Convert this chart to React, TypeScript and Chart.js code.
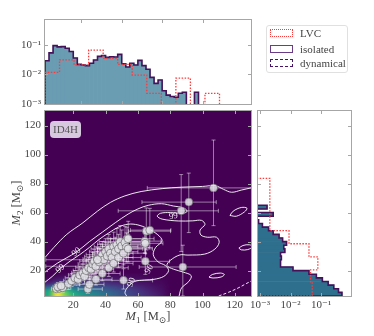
import React, { useEffect, useRef } from 'react';
import { Chart, registerables } from 'chart.js';

Chart.register(...registerables);

const FONT = "'Liberation Serif', 'DejaVu Serif', serif";
const TEXT_COLOR = '#444444';
const SPINE_COLOR = '#a6a6a6';
const TEAL_TOP = '#6a9cb2';
const TEAL_RIGHT = '#2f6f8e';
const PURPLE = '#45125a';
const LVC_RED = '#ff3a3a';

// ---------------- data ----------------
const m1Ticks = [20, 40, 60, 80, 100, 120];
const m2Ticks = [20, 40, 60, 80, 100, 120];
const topHistM1Ticks = [25, 50, 75, 100];
const logTicks = [1e-3, 1e-2, 1e-1];
const logTickLabels = ['10⁻³', '10⁻²', '10⁻¹'];

const isoBinStart = 2.5;
const isoBinWidth = 2.5;
const lvcBinStart = 2.5;
const lvcBinWidth = 9;

const m1DensityIsolated = [
  0.029, 0.054, 0.095, 0.086, 0.088, 0.077, 0.06, 0.036, 0.022, 0.021,
  0.02, 0.024, 0.031, 0.041, 0.044, 0.038, 0.04, 0.039, 0.048, 0.023,
  0.018, 0.024, 0.021, 0.03, 0.02, 0.015, 0.008, 0.005, 0.0065, 0.0028,
  0.002, 0.0018, 0.0017, 0.0023, 0.0025, 0, 0, 0.0025,
];
const m1DensityLVC = [0.0118, 0.031, 0.021, 0.067, 0.035, 0.022, 0.0095, 0.0023, 0, 0.0075, 0, 0.0023];

const m2DensityIsolated = [
  0.48, 0.37, 0.26, 0.17, 0.11, 0.07, 0.04, 0.012, 0.0047, 0.0047,
  0.005, 0.0047, 0.0065, 0.006, 0.0074, 0.0055, 0.0042, 0.0027, 0.0019, 0.0012,
  0.0009, 0, 0.0027, 0, 0.0017,
];
const m2DensityLVC = [0.051, 0.045, 0.078, 0.04, 0.0089, 0.0021, 0.0021, 0.0021, 0.0021];

// events (M1, M2) with asymmetric 90% errors
const eventM1 = [
  106.8, 91.5, 86.8, 87.8, 65.2, 67.4, 64.3, 64.5, 64.6, 53.2, 51.1,
  9.5, 11.5, 13.5, 10.5, 12.5, 17, 19, 21, 23, 24, 26, 27, 28, 29.5, 31, 32, 33, 34, 35, 36,
  37, 38, 39, 40, 41, 42, 43, 44, 45, 46, 47, 48, 49, 50, 52, 53, 54,
  29, 30, 34, 38, 35, 42, 45, 48, 51, 54,
];
const eventM2 = [
  77, 67.2, 61.2, 22.5, 47.2, 47.9, 40.3, 38.8, 26.4, 41.9, 13.3,
  7.5, 7.8, 8.2, 8.8, 9.5, 11, 13, 15, 14, 17, 18.5, 16, 20, 22, 21, 24.5, 26.5, 23, 28, 26,
  29.5, 31, 27.5, 33, 30, 35, 32, 29, 36.5, 33, 38, 35, 40, 37, 39.5, 36, 42,
  7.3, 10.5, 14, 18, 27.5, 22, 25, 29, 32, 35,
];
const eventM1ErrLo = [
  41, 29, 39, 27, 11, 12, 10, 9, 20, 10, 15,
  3, 3, 4, 3, 4, 5, 5, 6, 6, 7, 7, 7, 8, 8, 8, 9, 9, 31, 9, 10,
  10, 10, 11, 10, 11, 11, 11, 12, 12, 12, 12, 12, 13, 12, 13, 13, 13,
  6, 6, 7, 8, 32, 9, 10, 10, 11, 12,
];
const eventM1ErrHi = [
  25, 17, 23, 33, 15, 13, 10, 11, 15, 10, 18,
  4, 4, 5, 5, 5, 7, 8, 9, 8, 9, 10, 9, 10, 11, 10, 12, 12, 17, 12, 12,
  13, 12, 13, 14, 13, 14, 14, 13, 15, 14, 15, 15, 15, 14, 15, 14, 16,
  9, 9, 10, 11, 16, 12, 12, 14, 14, 15,
];
const eventM2ErrLo = [
  26, 21, 28, 20, 13, 12, 8, 7, 9, 7, 6,
  2.5, 2.5, 3, 2.5, 3, 4, 4, 5, 4, 5, 5, 5, 6, 6, 6, 7, 7, 8, 8, 7,
  8, 8, 8, 9, 8, 9, 9, 8, 10, 9, 10, 10, 10, 10, 10, 10, 11,
  3, 3, 4, 5, 8, 6, 6, 7, 8, 9,
];
const eventM2ErrHi = [
  33, 20, 25, 15, 16, 15, 9, 8, 10, 8, 8,
  2.5, 3, 3, 3, 3, 4, 5, 5, 5, 6, 6, 6, 7, 7, 7, 8, 8, 7, 8, 9,
  9, 9, 9, 9, 9, 10, 10, 10, 10, 10, 11, 10, 11, 11, 11, 10, 12,
  3, 4, 5, 6, 8, 7, 8, 8, 9, 10,
];

// density map of the model (row = M2 centre, column = M1 centre)
const heatM1 = [5, 10, 15, 20, 25, 30, 35, 40, 45, 50, 55, 60, 65, 70, 75, 80];
const heatM2 = [3.75, 6.25, 8.75, 11.25, 13.75, 16.25, 18.75];
const heatDensity = [
  [0.62, 1.0, 0.8, 0.62, 0.54, 0.48, 0.43, 0.37, 0.31, 0.26, 0.21, 0.17, 0.13, 0.09, 0.05, 0.0],
  [0.56, 0.93, 0.7, 0.52, 0.45, 0.41, 0.36, 0.31, 0.27, 0.23, 0.19, 0.15, 0.11, 0.07, 0.04, 0.0],
  [0.3, 0.52, 0.44, 0.35, 0.31, 0.29, 0.26, 0.23, 0.2, 0.17, 0.14, 0.11, 0.08, 0.05, 0.03, 0.0],
  [0.1, 0.2, 0.2, 0.18, 0.17, 0.16, 0.15, 0.14, 0.12, 0.1, 0.08, 0.06, 0.05, 0.03, 0.02, 0.0],
  [0.03, 0.08, 0.09, 0.09, 0.09, 0.09, 0.09, 0.08, 0.07, 0.06, 0.05, 0.04, 0.03, 0.02, 0.01, 0.0],
  [0.0, 0.02, 0.03, 0.04, 0.04, 0.04, 0.04, 0.04, 0.04, 0.03, 0.02, 0.02, 0.01, 0.0, 0.0, 0.0],
  [0.0, 0.0, 0.0, 0.0, 0.0, 0.0, 0.0, 0.0, 0.0, 0.0, 0.0, 0.0, 0.0, 0.0, 0.0, 0.0],
];

// credible-region contours
const contourOuterM1 = [2.5, 8, 16, 26, 35, 43, 52, 62, 75, 87, 100, 108, 113, 118, 124, 130];
const contourOuterM2 = [29, 36, 45, 53, 61, 67, 71.5, 74.5, 76.5, 77.5, 78, 78.5, 76, 74, 75.5, 77];
const contourMidM1 = [
  2.5, 10, 21.9, 30, 38, 46, 54, 60, 66.4, 74.6, 82, 88, 90.5, 88, 80, 74, 72, 75, 85, 94,
  99.4, 101.5, 98.5, 99, 103, 108.7, 110.3, 107.6, 101.4, 91, 86, 80, 78, 82, 88, 93, 91.5, 87, 85.5,
];
const contourMidM2 = [
  19, 25, 32.8, 40, 46.5, 53, 59, 62.5, 65, 66.1, 64.5, 63.3, 61, 59.5, 60, 59.5, 57.5, 55.5, 54.2, 54.3,
  54.6, 51.8, 48, 44.5, 43, 43, 39.4, 34.8, 31.4, 30.7, 30.8, 27, 23.5, 21, 19, 16.5, 12.5, 8, 2.5,
];
const contourInnerM1 = [2.5, 7, 12, 18, 24, 30, 36, 42, 48, 54, 60, 66, 72, 75, 71, 69.5, 72.5, 77, 79, 76, 70, 64, 58, 54, 52, 53];
const contourInnerM2 = [12, 16, 21.3, 26.5, 31, 36, 41.5, 46, 50, 52, 51.5, 49, 45, 40.5, 36, 31, 26, 23.5, 20, 16, 14, 13.5, 12.5, 9, 5, 2.5];
const contourEdgeM1 = [110, 116, 122, 127, 130.5];
const contourEdgeM2 = [2.5, 5, 8, 11, 13];
const island1M1 = [117, 119, 124, 127.5, 126, 121, 117];
const island1M2 = [58, 61, 63.5, 63, 60.5, 57.5, 58];
const island2M1 = [104, 106, 111, 113.5, 111.5, 106.5, 104];
const island2M2 = [15.5, 17.3, 18.3, 17.3, 15.6, 14.9, 15.5];
const island3M1 = [122.5, 125, 129, 131, 128, 124, 122.5];
const island3M2 = [35.5, 37.3, 37.8, 36.5, 34.5, 34.3, 35.5];

const contourLabelM1 = [12, 21.9, 82, 67, 56];
const contourLabelM2 = [21.3, 32.8, 57.5, 21, 12];
const contourLabelText = ['99', '90', '99', '90', '90'];
const contourLabelAngle = [-40, -40, -10, -60, -70];

const legendLabels = ['LVC', 'isolated', 'dynamical'];

// ---------------- helpers ----------------
const viridisStops = [
  [68, 1, 84], [72, 36, 117], [65, 68, 135], [53, 95, 141], [42, 120, 142], [33, 145, 140],
  [34, 168, 132], [68, 191, 112], [122, 209, 81], [189, 223, 38], [253, 231, 37],
];
function viridis(t: number): number[] {
  const s = Math.max(0, Math.min(1, t)) * (viridisStops.length - 1);
  const i = Math.min(Math.floor(s), viridisStops.length - 2);
  const f = s - i;
  const a = viridisStops[i];
  const b = viridisStops[i + 1];
  return [0, 1, 2].map((k) => Math.round(a[k] + (b[k] - a[k]) * f));
}

const FLOOR = 1e-6;
function stepOutline(values: number[], start: number, width: number, horizontal: boolean) {
  const pts: { x: number; y: number }[] = [];
  const push = (edge: number, val: number) => pts.push(horizontal ? { x: val, y: edge } : { x: edge, y: val });
  push(start, FLOOR);
  values.forEach((v, i) => {
    const lo = start + i * width;
    const val = v > 0 ? v : FLOOR;
    push(lo, val);
    push(lo + width, val);
  });
  push(start + values.length * width, FLOOR);
  return pts;
}
function barPoints(values: number[], start: number, width: number, horizontal: boolean) {
  const pts: { x: number; y: number }[] = [];
  values.forEach((v, i) => {
    if (v <= 0) return;
    const c = start + (i + 0.5) * width;
    pts.push(horizontal ? { x: v, y: c } : { x: c, y: v });
  });
  return pts;
}
function zip(a: number[], b: number[]) {
  return a.map((v, i) => ({ x: v, y: b[i] }));
}

function framePlugin(xTicks: number[], yTicks: number[]) {
  return {
    id: 'frame',
    afterDraw(chart: any) {
      const { ctx, chartArea: a, scales } = chart;
      ctx.save();
      ctx.strokeStyle = SPINE_COLOR;
      ctx.lineWidth = 1;
      ctx.strokeRect(a.left - 0.5, a.top - 0.5, a.right - a.left + 1, a.bottom - a.top + 1);
      ctx.beginPath();
      xTicks.forEach((v) => {
        const px = Math.round(scales.x.getPixelForValue(v)) + 0.5;
        ctx.moveTo(px, a.top);
        ctx.lineTo(px, a.top + 3);
        ctx.moveTo(px, a.bottom);
        ctx.lineTo(px, a.bottom - 3);
      });
      yTicks.forEach((v) => {
        const py = Math.round(scales.y.getPixelForValue(v)) + 0.5;
        ctx.moveTo(a.left, py);
        ctx.lineTo(a.left + 3, py);
        ctx.moveTo(a.right, py);
        ctx.lineTo(a.right - 3, py);
      });
      ctx.stroke();
      ctx.restore();
    },
  };
}

const heatPlugin = {
  id: 'heat',
  beforeDatasetsDraw(chart: any) {
    const { ctx, chartArea: a, scales } = chart;
    const xs = scales.x;
    const ys = scales.y;
    ctx.save();
    ctx.beginPath();
    ctx.rect(a.left, a.top, a.right - a.left, a.bottom - a.top);
    ctx.clip();
    const bg = viridis(0);
    ctx.fillStyle = `rgb(${bg.join(',')})`;
    ctx.fillRect(a.left, a.top, a.right - a.left, a.bottom - a.top);

    const cols = heatM1.length;
    const rows = heatM2.length;
    const off = document.createElement('canvas');
    off.width = cols;
    off.height = rows;
    const octx = off.getContext('2d') as CanvasRenderingContext2D;
    const img = octx.createImageData(cols, rows);
    for (let r = 0; r < rows; r++) {
      for (let c = 0; c < cols; c++) {
        const col = viridis(heatDensity[r][c]);
        const p = ((rows - 1 - r) * cols + c) * 4;
        img.data[p] = col[0];
        img.data[p + 1] = col[1];
        img.data[p + 2] = col[2];
        img.data[p + 3] = 255;
      }
    }
    octx.putImageData(img, 0, 0);
    const dx = heatM1[1] - heatM1[0];
    const dy = heatM2[1] - heatM2[0];
    const x0 = xs.getPixelForValue(heatM1[0] - dx / 2);
    const x1 = xs.getPixelForValue(heatM1[cols - 1] + dx / 2);
    const yT = ys.getPixelForValue(heatM2[rows - 1] + dy / 2);
    const yB = ys.getPixelForValue(heatM2[0] - dy / 2);
    ctx.imageSmoothingEnabled = true;
    ctx.imageSmoothingQuality = 'high';
    ctx.drawImage(off, x0, yT, x1 - x0, yB - yT);

    // error bars
    ctx.strokeStyle = 'rgba(255,255,255,0.48)';
    ctx.lineWidth = 1;
    eventM1.forEach((m, i) => {
      const px = xs.getPixelForValue(m);
      const py = ys.getPixelForValue(eventM2[i]);
      const xl = xs.getPixelForValue(m - eventM1ErrLo[i]);
      const xh = xs.getPixelForValue(m + eventM1ErrHi[i]);
      const yl = ys.getPixelForValue(eventM2[i] - eventM2ErrLo[i]);
      const yh = ys.getPixelForValue(eventM2[i] + eventM2ErrHi[i]);
      ctx.beginPath();
      ctx.moveTo(xl, py);
      ctx.lineTo(xh, py);
      ctx.moveTo(px, yl);
      ctx.lineTo(px, yh);
      ctx.moveTo(xl, py - 2);
      ctx.lineTo(xl, py + 2);
      ctx.moveTo(xh, py - 2);
      ctx.lineTo(xh, py + 2);
      ctx.moveTo(px - 2, yl);
      ctx.lineTo(px + 2, yl);
      ctx.moveTo(px - 2, yh);
      ctx.lineTo(px + 2, yh);
      ctx.stroke();
    });
    ctx.restore();
  },
  afterDatasetsDraw(chart: any) {
    const { ctx, scales } = chart;
    ctx.save();
    ctx.font = `9px ${FONT}`;
    ctx.fillStyle = 'rgba(255,255,255,0.9)';
    ctx.textAlign = 'center';
    ctx.textBaseline = 'middle';
    contourLabelText.forEach((t, i) => {
      const px = scales.x.getPixelForValue(contourLabelM1[i]);
      const py = scales.y.getPixelForValue(contourLabelM2[i]);
      ctx.save();
      ctx.translate(px, py);
      ctx.rotate((contourLabelAngle[i] * Math.PI) / 180);
      ctx.fillText(t, 0, 0);
      ctx.restore();
    });
    ctx.restore();
  },
};

const tickFont = { family: FONT, size: 11 };

function logLabel(v: any) {
  const idx = logTicks.findIndex((t) => Math.abs(t - Number(v)) < t * 1e-6);
  return idx >= 0 ? logTickLabels[idx] : '';
}

function makeTopConfig(): any {
  return {
    type: 'bar',
    data: {
      datasets: [
        {
          type: 'line', data: stepOutline(m1DensityLVC, lvcBinStart, lvcBinWidth, false),
          borderColor: LVC_RED, borderWidth: 1.3, borderDash: [1.5, 1.5], pointRadius: 0, fill: false, order: 0,
        },
        {
          type: 'line', data: stepOutline(m1DensityIsolated, isoBinStart, isoBinWidth, false),
          borderColor: PURPLE, borderWidth: 1.6, pointRadius: 0, fill: false, order: 1,
        },
        {
          type: 'bar', data: barPoints(m1DensityIsolated, isoBinStart, isoBinWidth, false),
          backgroundColor: TEAL_TOP, borderWidth: 0, barPercentage: 1, categoryPercentage: 1, order: 2,
        },
      ],
    },
    options: {
      animation: false, responsive: false, events: [],
      layout: { padding: { left: 15, right: 123, top: 20, bottom: 232 } },
      plugins: { legend: { display: false }, tooltip: { enabled: false } },
      scales: {
        x: { type: 'linear', min: 2.5, max: 130, offset: false, display: false, grid: { display: false, offset: false } },
        y: {
          type: 'logarithmic', min: 1e-3, max: 0.7,
          afterFit: (s: any) => { s.width = 30; },
          afterBuildTicks: (s: any) => { s.ticks = logTicks.map((v) => ({ value: v })); },
          ticks: { callback: logLabel, font: tickFont, color: TEXT_COLOR, padding: 4, autoSkip: false },
          grid: { display: false, drawTicks: false }, border: { display: false },
        },
      },
    },
    plugins: [framePlugin(topHistM1Ticks, logTicks)],
  };
}

function makeRightConfig(): any {
  return {
    type: 'bar',
    data: {
      datasets: [
        {
          type: 'line', data: stepOutline(m2DensityLVC, lvcBinStart, lvcBinWidth, true),
          borderColor: LVC_RED, borderWidth: 1.3, borderDash: [1.5, 1.5], pointRadius: 0, fill: false, order: 0,
        },
        {
          type: 'line', data: stepOutline(m2DensityIsolated, isoBinStart, isoBinWidth, true),
          borderColor: PURPLE, borderWidth: 1.6, pointRadius: 0, fill: false, order: 1,
        },
        {
          type: 'bar', data: barPoints(m2DensityIsolated, isoBinStart, isoBinWidth, true),
          backgroundColor: TEAL_RIGHT, borderWidth: 0, barPercentage: 1, categoryPercentage: 1, order: 2,
        },
      ],
    },
    options: {
      indexAxis: 'y',
      animation: false, responsive: false, events: [],
      layout: { padding: { left: 258, right: 23, top: 111, bottom: 20 } },
      plugins: { legend: { display: false }, tooltip: { enabled: false } },
      scales: {
        y: { type: 'linear', min: 2.5, max: 130, offset: false, display: false, grid: { display: false, offset: false } },
        x: {
          type: 'logarithmic', min: 8.6e-4, max: 0.95, beginAtZero: false,
          afterFit: (s: any) => { s.height = 20; },
          afterBuildTicks: (s: any) => { s.ticks = logTicks.map((v) => ({ value: v })); },
          ticks: { callback: logLabel, font: tickFont, color: TEXT_COLOR, padding: 3, maxRotation: 0, autoSkip: false },
          grid: { display: false, drawTicks: false }, border: { display: false },
        },
      },
    },
    plugins: [framePlugin(logTicks, m2Ticks)],
  };
}

function makeMainConfig(): any {
  const contours = [
    { m1: contourOuterM1, m2: contourOuterM2, dash: [] as number[] },
    { m1: contourMidM1, m2: contourMidM2, dash: [] as number[] },
    { m1: contourInnerM1, m2: contourInnerM2, dash: [] as number[] },
    { m1: contourEdgeM1, m2: contourEdgeM2, dash: [3, 2] },
    { m1: island1M1, m2: island1M2, dash: [] as number[] },
    { m1: island2M1, m2: island2M2, dash: [] as number[] },
    { m1: island3M1, m2: island3M2, dash: [] as number[] },
  ];
  return {
    type: 'scatter',
    data: {
      datasets: [
        {
          data: zip(eventM1, eventM2), showLine: false, pointRadius: 4, pointStyle: 'circle',
          backgroundColor: 'rgba(224,224,230,0.85)', borderColor: 'rgba(80,80,80,0.7)', borderWidth: 0.8,
        },
        ...contours.map((c) => ({
          data: zip(c.m1, c.m2), showLine: true, pointRadius: 0, tension: 0.35,
          borderColor: 'rgba(255,255,255,0.9)', borderWidth: 1, borderDash: c.dash, fill: false,
        })),
      ],
    },
    options: {
      animation: false, responsive: false, events: [],
      layout: { padding: { left: 15, right: 123, top: 111, bottom: 20 } },
      plugins: { legend: { display: false }, tooltip: { enabled: false } },
      scales: {
        x: {
          type: 'linear', min: 2.5, max: 130,
          afterFit: (s: any) => { s.height = 20; },
          afterBuildTicks: (s: any) => { s.ticks = m1Ticks.map((v) => ({ value: v })); },
          ticks: { font: tickFont, color: TEXT_COLOR, padding: 3, maxRotation: 0, autoSkip: false },
          grid: { display: false, drawTicks: false }, border: { display: false },
        },
        y: {
          type: 'linear', min: 2.5, max: 130,
          afterFit: (s: any) => { s.width = 30; },
          afterBuildTicks: (s: any) => { s.ticks = m2Ticks.map((v) => ({ value: v })); },
          ticks: { font: tickFont, color: TEXT_COLOR, padding: 4, autoSkip: false },
          grid: { display: false, drawTicks: false }, border: { display: false },
        },
      },
    },
    plugins: [heatPlugin, framePlugin(m1Ticks, m2Ticks)],
  };
}

const legendY = [33, 48.5, 62.5];
const legendBorders = [`1.3px dotted ${LVC_RED}`, '1.6px solid #6a3d86', '1.6px dashed #4a1466'];

export default function App() {
  const topRef = useRef<HTMLCanvasElement>(null);
  const mainRef = useRef<HTMLCanvasElement>(null);
  const rightRef = useRef<HTMLCanvasElement>(null);

  useEffect(() => {
    Chart.defaults.font.family = FONT;
    const charts = [
      new Chart(topRef.current as HTMLCanvasElement, makeTopConfig()),
      new Chart(mainRef.current as HTMLCanvasElement, makeMainConfig()),
      new Chart(rightRef.current as HTMLCanvasElement, makeRightConfig()),
    ];
    return () => charts.forEach((c) => c.destroy());
  }, []);

  const abs: React.CSSProperties = { position: 'absolute', left: 0, top: 0 };
  return (
    <div style={{ position: 'absolute', left: 0, top: 0, width: 374, height: 336, background: '#fff', fontFamily: FONT, overflow: 'hidden' }}>
      <canvas ref={topRef} width={374} height={336} style={abs} />
      <canvas ref={mainRef} width={374} height={336} style={abs} />
      <canvas ref={rightRef} width={374} height={336} style={abs} />

      <div style={{ position: 'absolute', left: 50, top: 121, width: 31, height: 17, borderRadius: 4, background: 'rgba(232,222,238,0.9)', color: '#555', fontSize: 11, lineHeight: '17px', textAlign: 'center' }}>ID4H</div>

      <div style={{ position: 'absolute', left: 266, top: 25, width: 82, height: 48, border: '1px solid #e0e0e0', borderRadius: 3, boxSizing: 'border-box', background: '#fff' }} />
      {legendLabels.map((lab, i) => (
        <React.Fragment key={lab}>
          <div style={{ position: 'absolute', left: 270, top: legendY[i] - 4, width: 23, height: 8, boxSizing: 'border-box', border: legendBorders[i] }} />
          <div style={{ position: 'absolute', left: 300, top: legendY[i] - 7, fontSize: 11, lineHeight: '14px', color: TEXT_COLOR, whiteSpace: 'nowrap' }}>{lab}</div>
        </React.Fragment>
      ))}

      <div style={{ position: 'absolute', left: 148, top: 309, transform: 'translateX(-50%)', fontSize: 12.5, lineHeight: '14px', color: TEXT_COLOR, whiteSpace: 'nowrap' }}>
        <i>M</i><span style={{ fontSize: 9, position: 'relative', top: 3 }}>1</span> [M<span style={{ fontSize: 9, position: 'relative', top: 3 }}>⊙</span>]
      </div>
      <div style={{ position: 'absolute', left: 16, top: 203, transform: 'translate(-50%, -50%) rotate(-90deg)', fontSize: 12.5, lineHeight: '14px', color: TEXT_COLOR, whiteSpace: 'nowrap' }}>
        <i>M</i><span style={{ fontSize: 9, position: 'relative', top: 3 }}>2</span> [M<span style={{ fontSize: 9, position: 'relative', top: 3 }}>⊙</span>]
      </div>
    </div>
  );
}
